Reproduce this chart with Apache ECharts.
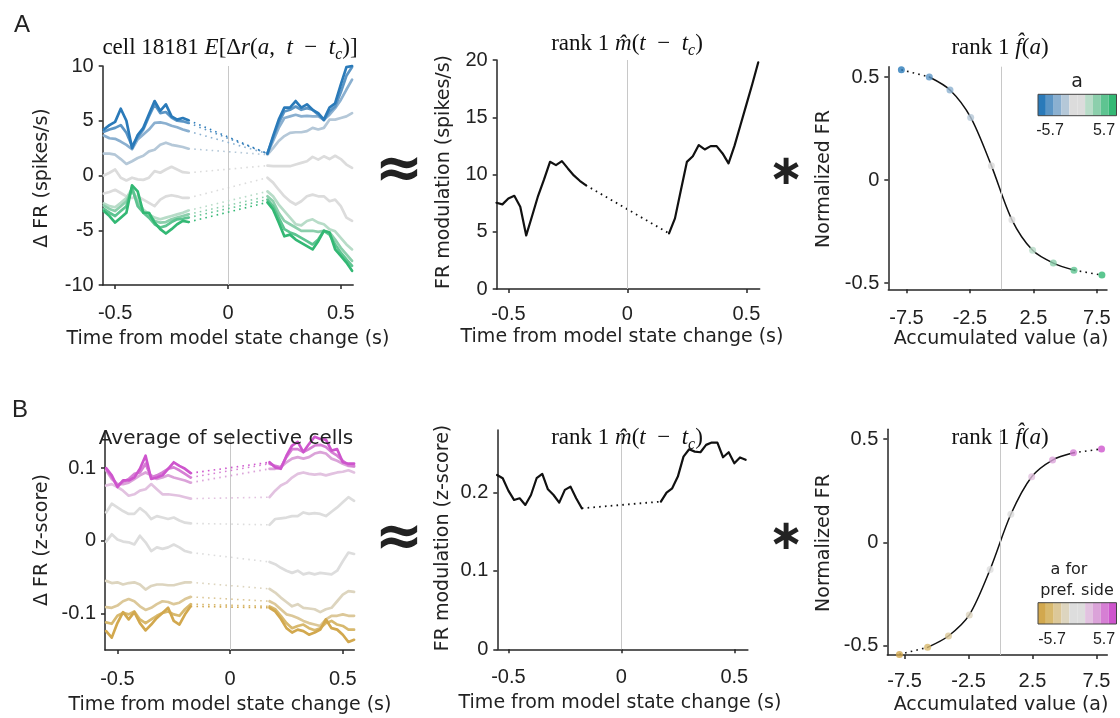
<!DOCTYPE html>
<html><head><meta charset="utf-8">
<script src="https://cdn.jsdelivr.net/npm/echarts@6/dist/echarts.min.js"></script>
<style>html,body{margin:0;padding:0;background:#fff}#c{width:1120px;height:718px}</style>
</head><body><div id="c"></div>
<script>
// ---------------- DATA ----------------
const tLeft = [-0.55,-0.525,-0.5,-0.475,-0.45,-0.425,-0.4,-0.375,-0.35,-0.325,-0.3,-0.275,-0.25,-0.225,-0.2,-0.175];
const tRight = [0.175,0.2,0.225,0.25,0.275,0.3,0.325,0.35,0.375,0.4,0.425,0.45,0.475,0.5,0.525,0.55];
const aValues = [-7.9,-5.7,-4.07,-2.44,-0.81,0.81,2.44,4.07,5.7,7.9];
const timeTicks = [-0.5,0,0.5];
const aTicks = [-7.5,-2.5,2.5,7.5];
const colorsA = ['#2a7ab9','#5b95c5','#8bb0d0','#b5c8d8','#dcdcdc','#dcdcdc','#b8dcc8','#8ccfac','#5ec491','#33b874'];
const colorsB = ['#d2a84e','#d8b96e','#dcc899','#ddd5bf','#dddddd','#dddddd','#e2c2e0','#dba3d9','#d67fd4','#ce55cd'];

// Panel A left: cell 18181, one row per a-bin (before / after state change)
const cellBefore = [
 [4.2,4.6,4.9,6.1,5.0,2.5,3.7,4.35,5.6,6.8,5.9,6.5,5.4,5.1,5.25,5.05],
 [4.0,4.2,4.35,4.6,3.9,2.7,3.5,4.2,5.4,6.5,5.7,5.8,5.3,5.0,4.95,4.8],
 [3.65,3.4,3.35,3.1,2.8,2.4,3.3,3.75,4.2,4.8,4.85,4.75,4.55,4.4,4.2,4.05],
 [2.0,2.0,1.9,1.5,1.05,1.3,1.6,1.8,2.2,2.35,2.8,3.0,2.8,2.7,2.6,2.45],
 [0.0,0.25,0.55,-0.2,-0.45,-0.2,-0.35,-0.4,-0.2,0.4,0.25,0.55,0.8,0.55,0.3,0.25],
 [-1.65,-1.5,-1.3,-1.6,-1.9,-2.05,-1.9,-2.2,-2.5,-2.8,-2.2,-1.9,-1.8,-1.9,-2.05,-2.05],
 [-2.55,-2.8,-2.9,-2.5,-2.05,-1.2,-2.35,-3.1,-3.55,-3.85,-4.0,-3.85,-3.7,-3.55,-3.4,-3.2],
 [-2.75,-3.05,-3.25,-2.8,-2.35,-1.3,-2.5,-3.35,-3.7,-4.15,-4.3,-4.25,-4.0,-3.85,-3.7,-3.55],
 [-3.05,-3.4,-3.7,-3.25,-2.8,-1.1,-2.8,-3.4,-3.85,-4.45,-4.75,-4.6,-4.25,-4.0,-3.95,-3.85],
 [-3.25,-3.7,-4.3,-3.85,-3.4,-0.9,-1.45,-3.4,-3.4,-4.3,-4.9,-5.3,-4.9,-4.45,-4.15,-4.25]
];
const cellAfter = [
 [2.0,3.6,5.1,6.2,6.2,6.8,6.2,6.5,6.0,5.7,5.1,6.2,6.6,8.3,9.9,10.0],
 [2.0,3.45,4.8,5.85,6.0,6.3,6.0,6.15,6.0,5.55,5.05,5.85,6.3,7.6,9.1,9.9],
 [2.0,3.15,4.35,5.25,5.4,5.55,5.4,5.45,5.4,5.4,5.1,5.55,6.15,6.9,7.85,8.75],
 [1.9,2.5,3.15,3.6,3.9,3.95,3.95,4.05,4.35,4.2,4.35,5.1,5.1,5.25,5.4,5.7],
 [0.9,0.85,0.85,0.85,0.85,1.0,1.15,1.3,1.7,1.45,1.75,1.5,1.8,1.5,1.0,0.7],
 [-0.2,-0.65,-1.3,-1.9,-2.35,-2.65,-2.35,-1.9,-1.75,-1.9,-1.9,-2.35,-2.2,-2.8,-3.85,-4.15],
 [-1.45,-1.9,-2.65,-3.25,-3.85,-4.45,-4.55,-4.15,-4.0,-4.3,-4.45,-4.9,-5.1,-5.7,-6.3,-6.75],
 [-1.9,-2.35,-3.4,-4.15,-4.45,-4.75,-5.05,-5.05,-5.05,-5.15,-5.05,-5.2,-5.85,-6.6,-7.2,-7.8],
 [-2.2,-2.8,-3.85,-4.9,-5.2,-5.4,-5.7,-6.0,-6.3,-5.85,-5.05,-5.4,-6.3,-7.05,-7.65,-8.25],
 [-2.45,-3.1,-4.3,-5.55,-5.4,-5.85,-6.15,-6.45,-6.75,-6.0,-5.05,-5.2,-6.75,-7.35,-7.95,-8.7]
];
// Panel A middle / right
const mCellBefore = [7.53,7.39,7.91,8.14,7.18,4.68,6.40,8.14,9.57,11.11,10.82,11.17,10.53,9.92,9.45,9.07];
const mCellAfter = [4.86,6.17,8.64,11.1,11.6,12.57,12.19,12.48,12.48,11.84,10.97,12.5,14.3,16.1,17.9,19.8];
const fCell = [0.535,0.50,0.437,0.304,0.07,-0.193,-0.341,-0.403,-0.437,-0.461];

// Panel B left: average of selective cells
const avgBefore = [
 [-0.124,-0.133,-0.113,-0.098,-0.108,-0.098,-0.113,-0.123,-0.115,-0.106,-0.099,-0.092,-0.110,-0.115,-0.101,-0.090],
 [-0.112,-0.114,-0.103,-0.099,-0.101,-0.097,-0.108,-0.113,-0.108,-0.103,-0.099,-0.097,-0.101,-0.103,-0.094,-0.087],
 [-0.091,-0.092,-0.089,-0.083,-0.080,-0.083,-0.090,-0.095,-0.092,-0.087,-0.083,-0.084,-0.087,-0.085,-0.080,-0.077],
 [-0.055,-0.058,-0.057,-0.060,-0.058,-0.057,-0.060,-0.067,-0.062,-0.060,-0.060,-0.061,-0.061,-0.059,-0.057,-0.057],
 [-0.001,0.009,0.002,-0.001,-0.002,-0.005,0.007,-0.002,-0.014,-0.009,-0.011,-0.009,-0.005,-0.009,-0.014,-0.016],
 [0.039,0.051,0.046,0.041,0.037,0.037,0.045,0.039,0.030,0.034,0.032,0.030,0.032,0.028,0.025,0.024],
 [0.076,0.078,0.074,0.069,0.062,0.064,0.069,0.071,0.078,0.071,0.064,0.064,0.063,0.062,0.060,0.058],
 [0.097,0.085,0.078,0.078,0.080,0.085,0.090,0.094,0.090,0.085,0.087,0.090,0.087,0.085,0.083,0.080],
 [0.099,0.087,0.076,0.081,0.085,0.092,0.094,0.106,0.087,0.090,0.094,0.099,0.101,0.097,0.092,0.087],
 [0.100,0.090,0.074,0.083,0.083,0.087,0.099,0.117,0.085,0.087,0.090,0.099,0.108,0.103,0.099,0.093]
];
const avgAfter = [
 [-0.092,-0.097,-0.107,-0.120,-0.126,-0.122,-0.124,-0.129,-0.126,-0.122,-0.108,-0.120,-0.122,-0.129,-0.139,-0.136],
 [-0.090,-0.094,-0.103,-0.113,-0.120,-0.117,-0.115,-0.120,-0.123,-0.120,-0.113,-0.110,-0.115,-0.117,-0.122,-0.122],
 [-0.083,-0.087,-0.094,-0.101,-0.103,-0.106,-0.110,-0.113,-0.115,-0.117,-0.108,-0.103,-0.103,-0.101,-0.103,-0.103],
 [-0.066,-0.071,-0.078,-0.084,-0.090,-0.087,-0.092,-0.093,-0.094,-0.098,-0.094,-0.092,-0.083,-0.074,-0.069,-0.070],
 [-0.029,-0.032,-0.037,-0.041,-0.044,-0.041,-0.046,-0.044,-0.046,-0.044,-0.045,-0.046,-0.041,-0.028,-0.016,-0.018],
 [0.022,0.030,0.031,0.032,0.034,0.034,0.039,0.037,0.038,0.037,0.034,0.040,0.046,0.053,0.060,0.055],
 [0.060,0.069,0.076,0.080,0.087,0.092,0.094,0.092,0.091,0.092,0.090,0.092,0.094,0.095,0.097,0.094],
 [0.099,0.099,0.101,0.108,0.113,0.115,0.113,0.115,0.120,0.122,0.120,0.113,0.110,0.106,0.103,0.102],
 [0.106,0.103,0.101,0.115,0.126,0.126,0.122,0.126,0.131,0.132,0.129,0.122,0.117,0.110,0.104,0.103],
 [0.108,0.101,0.099,0.117,0.131,0.136,0.122,0.133,0.143,0.140,0.139,0.124,0.126,0.108,0.106,0.106]
];
const mAvgBefore = [0.2226,0.2184,0.2026,0.1907,0.1928,0.1843,0.197,0.2184,0.2239,0.2043,0.197,0.1873,0.2035,0.2077,0.1928,0.18];
const mAvgAfter = [0.1886,0.2001,0.2056,0.2205,0.246,0.2554,0.2524,0.2516,0.261,0.264,0.264,0.2452,0.2516,0.2375,0.245,0.242];
const fAvg = [-0.543,-0.509,-0.454,-0.352,-0.131,0.136,0.318,0.399,0.434,0.453];

// ---------------- LAYOUT ----------------
const grids = [
 {left:102.7, top:66, width:250.5, height:219},
 {left:496.7, top:60, width:263, height:229},
 {left:888.3, top:66.7, width:218.7, height:222.6},
 {left:105, top:431.7, width:249.3, height:218.3},
 {left:497.3, top:430, width:250.6, height:219.3},
 {left:887.3, top:429.3, width:220, height:225.7},
 {left:1038, top:94.3, width:78.5, height:21.4},
 {left:1038, top:602.7, width:78.5, height:21.3}
];
const AX = '#262626';
function valAxis(gi, min, max, ticks, pos, margin){
  return {type:'value', gridIndex:gi, min:min, max:max, position:pos,
    axisLine:{show:true, onZero:false, lineStyle:{color:AX, width:1.5}},
    axisTick:{show:true, inside:false, length:4, lineStyle:{color:AX, width:1.5}, customValues:ticks},
    axisLabel:{show:true, customValues:ticks, formatter:function(v){return String(v);},
      fontFamily:'Liberation Sans', fontSize:20, color:'#222', margin: margin},
    splitLine:{show:false}, splitArea:{show:false}};
}
const xAxes = [
 valAxis(0,-0.555,0.555,timeTicks,'bottom',18),
 valAxis(1,-0.549,0.556,timeTicks,'bottom',15),
 valAxis(2,-8.93,8.3,aTicks,'bottom',19),
 valAxis(3,-0.555,0.551,timeTicks,'bottom',19),
 valAxis(4,-0.549,0.56,timeTicks,'bottom',18),
 valAxis(5,-8.85,8.35,aTicks,'bottom',16),
 {type:'category', gridIndex:6, data:aValues.map(String), show:false},
 {type:'category', gridIndex:7, data:aValues.map(String), show:false}
];
const yAxes = [
 valAxis(0,-10,10,[-10,-5,0,5,10],'left',9),
 valAxis(1,0,20,[0,5,10,15,20],'left',9),
 valAxis(2,-0.53,0.55,[-0.5,0,0.5],'left',9),
 valAxis(3,-0.15,0.15,[-0.1,0,0.1],'left',9),
 valAxis(4,0,0.28,[0,0.1,0.2],'left',9),
 valAxis(5,-0.546,0.548,[-0.5,0,0.5],'left',9),
 {type:'value', gridIndex:6, min:0, max:1, show:false},
 {type:'value', gridIndex:7, min:0, max:1, show:false}
];

const series = [];
const DOT = [1.6, 4.2];
function zeroLine(){
  return {silent:true, symbol:'none', animation:false, label:{show:false},
    lineStyle:{color:'#c8c8c8', width:1, type:'solid'}, data:[{xAxis:0}]};
}
function line(ai, data, color, width, dotted, z, extra){
  const s = {type:'line', xAxisIndex:ai, yAxisIndex:ai, data:data, symbol:'none', showSymbol:false,
    animation:false, silent:true, z:z, clip:false,
    lineStyle:{color:color, width:width, type: dotted ? DOT : 'solid', join:'round', cap: dotted?'butt':'round'}};
  if (extra) Object.assign(s, extra);
  series.push(s);
}
function pairs(xs, ys){ return xs.map(function(x,i){return [x, ys[i]];}); }

const drawOrder = [4,5,3,6,2,7,1,8,0,9];
function timePanel(ai, before, after, colors){
  line(ai, [], '#fff', 0, false, 1, {markLine: zeroLine()});
  drawOrder.forEach(function(k, j){
    const z = 3 + j;
    line(ai, [[tLeft[tLeft.length-1], before[k][before[k].length-1]], [tRight[0], after[k][0]]], colors[k], 1.6, true, z);
    line(ai, pairs(tLeft, before[k]), colors[k], 2.7, false, z);
    line(ai, pairs(tRight, after[k]), colors[k], 2.7, false, z);
  });
}
timePanel(0, cellBefore, cellAfter, colorsA);
timePanel(3, avgBefore, avgAfter, colorsB);

function mPanel(ai, before, after){
  line(ai, [], '#fff', 0, false, 1, {markLine: zeroLine()});
  line(ai, [[tLeft[tLeft.length-1], before[before.length-1]], [tRight[0], after[0]]], '#111', 1.8, true, 3);
  line(ai, pairs(tLeft, before), '#111', 2.2, false, 4);
  line(ai, pairs(tRight, after), '#111', 2.2, false, 4);
}
mPanel(1, mCellBefore, mCellAfter);
mPanel(4, mAvgBefore, mAvgAfter);

function fPanel(ai, f, colors){
  line(ai, [], '#fff', 0, false, 1, {markLine: zeroLine()});
  const n = aValues.length;
  line(ai, [[aValues[0], f[0]], [aValues[1], f[1]]], '#111', 1.6, true, 3);
  line(ai, [[aValues[n-2], f[n-2]], [aValues[n-1], f[n-1]]], '#111', 1.6, true, 3);
  line(ai, pairs(aValues.slice(1, n-1), f.slice(1, n-1)), '#111', 1.5, false, 3, {smooth:0.3});
  series.push({type:'scatter', xAxisIndex:ai, yAxisIndex:ai, symbol:'circle', symbolSize:7, animation:false, silent:true, z:5, clip:false,
    data: aValues.map(function(a,i){ return {value:[a, f[i]], itemStyle:{color:colors[i]}}; })});
}
fPanel(2, fCell, colorsA);
fPanel(5, fAvg, colorsB);

function colorbar(ai, colors){
  series.push({type:'bar', xAxisIndex:ai, yAxisIndex:ai, barWidth:'100%', barGap:'0%', animation:false, silent:true,
    data: colors.map(function(c){ return {value:1, itemStyle:{color:c}}; })});
}
colorbar(6, colorsA);
colorbar(7, colorsB);

// ---------------- TEXT ----------------
const SANS = '"DejaVu Sans"';
const FS = 23;
const serifRich = {
  n:{fontFamily:'Liberation Serif', fontSize:FS, lineHeight:30, verticalAlign:'middle', fill:'#111'},
  i:{fontFamily:'Liberation Serif', fontSize:FS, fontStyle:'italic', lineHeight:30, verticalAlign:'middle', fill:'#111'},
  s:{fontFamily:'Liberation Serif', fontSize:16, fontStyle:'italic', lineHeight:10, verticalAlign:'bottom', fill:'#111'}
};
function txt(x, y, text, font, opts){
  opts = opts || {};
  const st = {text:text, x:0, y:0, font:font, fill: opts.fill || '#222', align: opts.align || 'center', verticalAlign: opts.va || 'middle'};
  if (opts.rich) st.rich = opts.rich;
  return {type:'text', x:x, y:y, rotation: opts.rot || 0, silent:true, z:100, style:st};
}
const yName = function(x, y, t){ return txt(x, y, t, '19px ' + SANS, {rot: Math.PI/2}); };
const xName = function(x, y, t){ return txt(x, y, t, '19px ' + SANS); };
const SERIF = FS + 'px "Liberation Serif"';
const titleM = '{n|rank 1 }{i|m\u0302}{n|(}{i|t}{n|\u2002−\u2002}{i|t}{s|c}{n|)}';
const titleF = '{n|rank 1 }{i|f\u0302}{n|(}{i|a}{n|)}';
const graphics = [
  txt(22, 25, 'A', '24px "Liberation Sans"'),
  txt(20, 410, 'B', '24px "Liberation Sans"'),
  txt(230, 48, '{n|cell 18181 }{i|E}{n|[Δ}{i|r}{n|(}{i|a}{n|,\u2002}{i|t}{n|\u2002−\u2002}{i|t}{s|c}{n|)]}', SERIF, {rich:serifRich}),
  txt(627, 44, titleM, SERIF, {rich:serifRich}),
  txt(1000, 48, titleF, SERIF, {rich:serifRich}),
  txt(226, 439, 'Average of selective cells', '20px ' + SANS),
  txt(627, 438, titleM, SERIF, {rich:serifRich}),
  txt(1000, 438, titleF, SERIF, {rich:serifRich}),
  yName(42, 178, 'Δ FR (spikes/s)'),
  yName(444, 172, 'FR modulation (spikes/s)'),
  yName(824, 179, 'Normalized FR'),
  yName(42, 540, 'Δ FR (z-score)'),
  yName(443, 538, 'FR modulation (z-score)'),
  yName(824, 543, 'Normalized FR'),
  xName(228, 339, 'Time from model state change (s)'),
  xName(622, 337, 'Time from model state change (s)'),
  xName(1001, 339, 'Accumulated value (a)'),
  xName(230, 705, 'Time from model state change (s)'),
  xName(620, 703, 'Time from model state change (s)'),
  xName(1001, 705, 'Accumulated value (a)'),
  txt(399, 172, '≈', 'bold 58px ' + SANS),
  txt(399, 540, '≈', 'bold 58px ' + SANS),
  txt(786, 173, '∗', 'bold 42px ' + SANS),
  txt(786, 538, '∗', 'bold 42px ' + SANS),
  txt(1077, 82, 'a', '19px ' + SANS),
  txt(1050, 131, '-5.7', '16px "Liberation Sans"'),
  txt(1104, 131, '5.7', '16px "Liberation Sans"'),
  txt(1069, 570, 'a for', '16px ' + SANS),
  txt(1077, 591, 'pref. side', '16px ' + SANS),
  txt(1052, 640, '-5.7', '16px "Liberation Sans"'),
  txt(1104, 640, '5.7', '16px "Liberation Sans"'),
  {type:'rect', silent:true, z:100, shape:{x:1038, y:94.3, width:78.5, height:21.4}, style:{fill:'none', stroke:'#444', lineWidth:1}},
  {type:'rect', silent:true, z:100, shape:{x:1038, y:602.7, width:78.5, height:21.3}, style:{fill:'none', stroke:'#444', lineWidth:1}}
];

const chart = echarts.init(document.getElementById('c'), null, {renderer:'canvas', width:1120, height:718});
chart.setOption({
  animation:false,
  backgroundColor:'#fff',
  grid: grids,
  xAxis: xAxes,
  yAxis: yAxes,
  series: series,
  graphic: graphics
});
</script></body></html>
